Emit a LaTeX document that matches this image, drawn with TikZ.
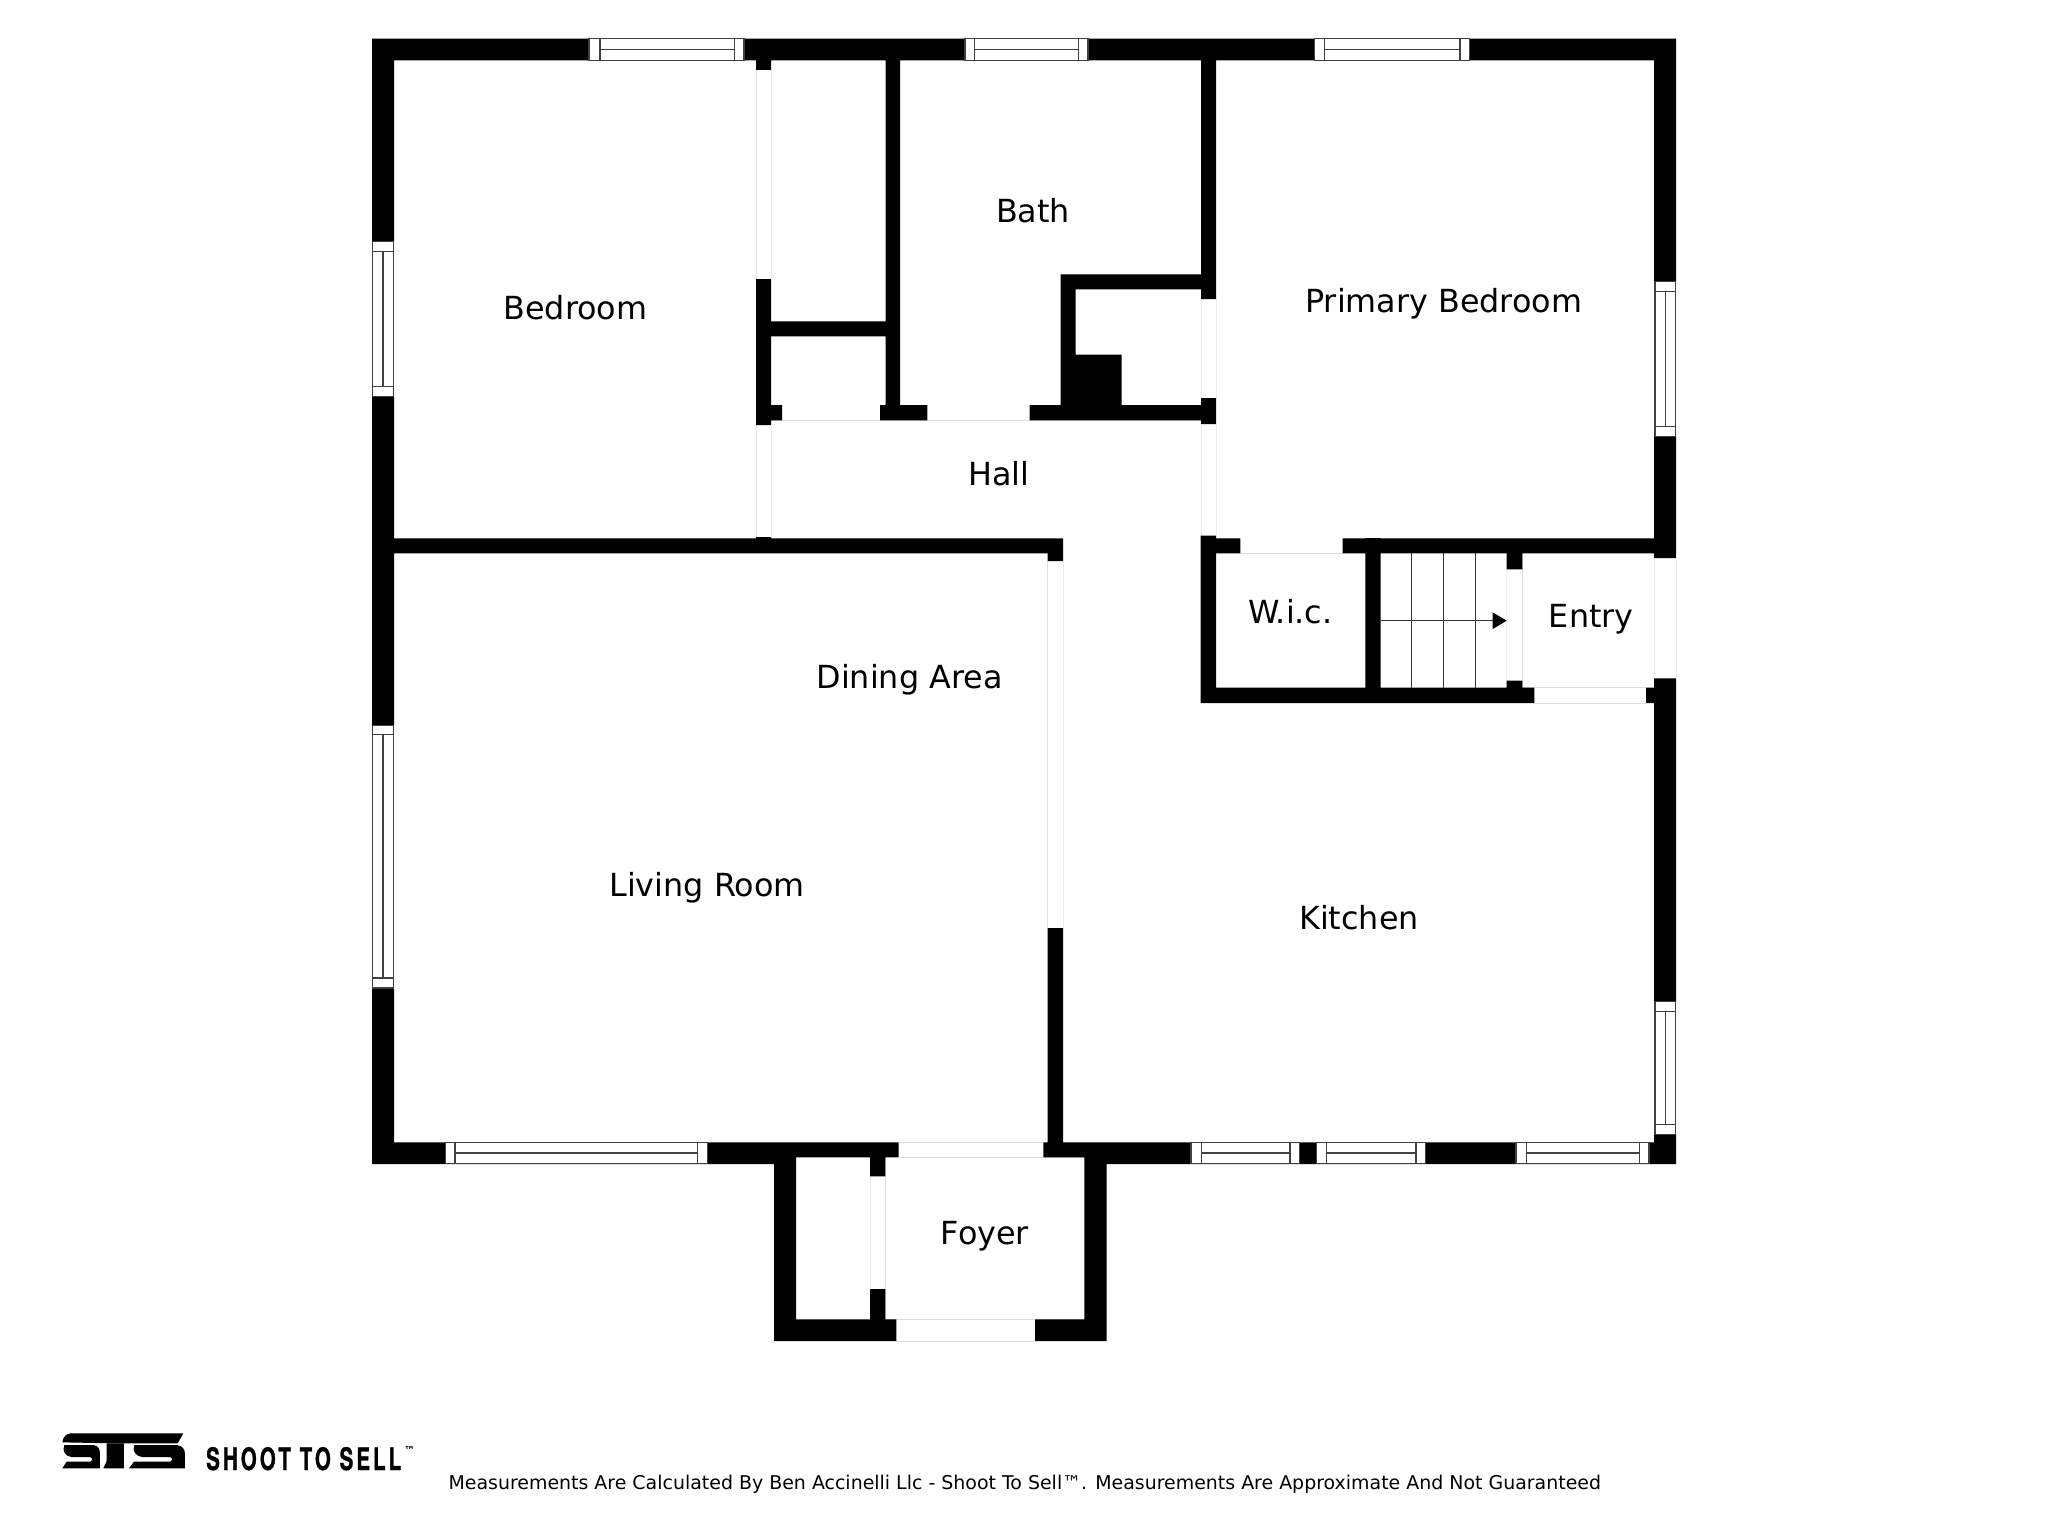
\documentclass[tikz,border=0pt]{standalone}
\usepackage{fontspec}
\setmainfont{DejaVu Sans}
\newfontfamily\stsfont[FakeStretch=0.66,LetterSpace=10,FakeBold=1]{TeX Gyre Heros}
\newcommand\HWin[6]{% x0 xi0 xi1 x1 y0 y1
  \filldraw[winline,fill=white] (#1,#5) rectangle (#4,#6);
  \draw[winline] (#2,#5) -- (#2,#6) (#3,#5) -- (#3,#6) (#2,{(#5+#6)/2}) -- (#3,{(#5+#6)/2});}
\newcommand\VWin[6]{% y0 yi0 yi1 y1 x0 x1
  \filldraw[winline,fill=white] (#5,#1) rectangle (#6,#4);
  \draw[winline] (#5,#2) -- (#6,#2) (#5,#3) -- (#6,#3) ({(#5+#6)/2},#2) -- ({(#5+#6)/2},#3);}
\tikzset{
  wall/.style={fill=black},
  winline/.style={draw=black!75,line width=1.3pt},
  doorline/.style={draw=black!13,line width=1pt},
  doorfaint/.style={draw=black!7,line width=1pt},
  treads/.style={draw=black!80,line width=1.3pt},
  roomlabel/.style={anchor=base,inner sep=0pt,font=\fontsize{31.8}{36}\selectfont},
}
\begin{document}
\begin{tikzpicture}[x=1pt,y=-1pt]
\useasboundingbox (0,0) rectangle (2048,1536);
% door lines
\draw[doorline] (771,420.4) -- (1201,420.4) (756,70) -- (756,279) (756,425) -- (756,537)
  (1240,553.3) -- (1343,553.3) (1522,687.7) -- (1646,687.7) (1534,703) -- (1646,703)
  (1047.7,561) -- (1047.7,928) (899,1142.3) -- (1043,1142.3) (899,1157.3) -- (1084,1157.3) (885.3,1157) -- (885.3,1319.3)
  (885,1319.3) -- (1084,1319.3) (896,1341) -- (1035,1341) (1522.3,553) -- (1522.3,688);
\draw[doorfaint] (771,70) -- (771,279) (771,425) -- (771,537) (1201,299) -- (1201,398) (1216,299) -- (1216,398)
  (1201,424) -- (1201,536) (1216,424) -- (1216,536) (1063,561) -- (1063,928) (870,1176) -- (870,1289)
  (1506.7,569) -- (1506.7,681) (1654,558) -- (1654,678) (1676,558) -- (1676,678);
% walls
\fill[wall]
  (372,38.6) rectangle (1676,60.4)
  (372,38.6) rectangle (394,241.4) (372,396.8) rectangle (394,725.3) (372,988) rectangle (394,1164)
  (372,1142.3) rectangle (774,1164) (774,1142.3) rectangle (898.7,1157.3)
  (1043.3,1142.3) rectangle (1106.7,1157.3) (1106.7,1142.3) rectangle (1676,1164)
  (774,1142.3) rectangle (796,1341) (1084.3,1142.3) rectangle (1106.7,1341)
  (774,1319.3) rectangle (896.3,1341) (1035,1319.3) rectangle (1106.7,1341)
  (870,1157) rectangle (885.3,1176.3) (870,1289) rectangle (885.3,1320)
  (1654,38.6) rectangle (1676,281.4) (1654,436.4) rectangle (1676,558) (1654,678.3) rectangle (1676,1001.7) (1654,1134.3) rectangle (1676,1164)
  (394,538.3) rectangle (1063,553.3) (1216,538.3) rectangle (1240.3,553.3) (1342.7,538.3) rectangle (1654,553.3)
  (756,60) rectangle (771,70) (756,279) rectangle (771,425) (756,537) rectangle (771,553.3)
  (885.5,60) rectangle (900,420.4) (771,321.4) rectangle (885.5,336.4)
  (771,405) rectangle (782,420.4) (880,405) rectangle (927.4,420.4) (1029.6,405) rectangle (1201,420.4)
  (1060.5,274.3) rectangle (1201,289.3) (1060.5,274.3) rectangle (1075.5,420.4) (1075.5,354.6) rectangle (1121.6,405)
  (1201,60) rectangle (1216,299) (1201,398) rectangle (1216,424) (1200.7,535.7) rectangle (1216,703)
  (1200.7,687.7) rectangle (1534.3,703) (1646,687.7) rectangle (1654,703)
  (1365.3,538) rectangle (1380.7,703)
  (1506.7,553) rectangle (1522.3,569.3) (1506.7,680.7) rectangle (1522.3,703)
  (1047.7,538.3) rectangle (1063,561) (1047.7,928) rectangle (1063,1142.3);
% windows
\HWin{589}{600}{734.5}{744}{38.6}{60.4}
\HWin{965}{974.7}{1078.5}{1088}{38.6}{60.4}
\HWin{1314.4}{1324.6}{1460}{1469.5}{38.6}{60.4}
\HWin{445.3}{455}{697.7}{707.7}{1142.3}{1163.7}
\HWin{1191}{1201.3}{1290}{1299.8}{1142.3}{1163.7}
\HWin{1316.8}{1326.5}{1416}{1425.5}{1142.3}{1163.7}
\HWin{1516}{1526.3}{1639.2}{1649}{1142.3}{1163.7}
\VWin{241.4}{251.4}{386.4}{396.8}{372.5}{393.5}
\VWin{725.3}{734.7}{978}{988}{372.5}{393.5}
\VWin{281.4}{291.4}{426.4}{436.4}{1655}{1675.5}
\VWin{1001.7}{1011.3}{1124.7}{1134.3}{1655}{1675.5}
% stairs
\draw[treads] (1411.7,553.3) -- (1411.7,687.7) (1443.7,553.3) -- (1443.7,687.7) (1475.7,553.3) -- (1475.7,687.7);
\draw[treads] (1380.7,620.7) -- (1495,620.7);
\fill[black] (1506.7,620.7) -- (1492.7,612.4) -- (1492.7,629) -- cycle;
% labels
\node[roomlabel] (bedroom) at (575.4,319.3) {Bedroom};
\node[roomlabel] (bath) at (1033,222.9) {Bath};
\node[roomlabel] (hall) at (998.8,485.4) {Hall};
\node[roomlabel] (primary) at (1443.7,312.9) {Primary Bedroom};
\node[roomlabel] (wic) at (1290.3,623.3) {W.i.c.};
\node[roomlabel] (entry) at (1591.2,627.7) {Entry};
\node[roomlabel] (foyer) at (985,1244.3) {Foyer};
\node[roomlabel] (dining) at (909.6,688) {Dining Area};
\node[roomlabel] (living) at (707,896) {Living Room};
\node[roomlabel] (kitchen) at (1359,929) {Kitchen};
\node[anchor=base west,inner sep=0pt,font=\fontsize{18.95}{22}\selectfont] (note) at (448.3,1489.5) {Measurements Are Calculated By Ben Accinelli Llc - Shoot To Sell™. Measurements Are Approximate And Not Guaranteed};
% logo
\begin{scope}[shift={(55,1425)},x=0.3333pt,y=-0.3333pt]
\fill (22,52) .. controls (24,35) and (35,25) .. (48,25) -- (385,25) -- (368,55) -- (172,55) -- cycle;
\fill (28,60) -- (115,60) .. controls (130,62) and (135,72) .. (135,88) -- (135,130) -- (22,130) -- (35,110) -- (105,110) .. controls (113,108) and (113,98) .. (105,96) -- (50,96) .. controls (32,95) and (20,78) .. (28,60) -- cycle;
\fill (155,55) -- (207,55) -- (207,130) -- (145,130) -- (155,108) -- cycle;
\fill (238,60) -- (365,60) .. controls (382,62) and (390,72) .. (390,88) -- (390,130) -- (222,130) -- (237,110) -- (345,110) .. controls (353,108) and (353,98) .. (345,96) -- (262,96) .. controls (244,95) and (230,78) .. (238,60) -- cycle;
\end{scope}
\node[anchor=base west,inner sep=0pt,font=\stsfont\bfseries\fontsize{31}{34}\selectfont] (brand) at (206,1470) {SHOOT TO SELL};
\node[anchor=base west,inner sep=0pt,font=\bfseries\fontsize{11}{12}\selectfont] (tm) at (404,1454) {™};
\end{tikzpicture}
\end{document}
